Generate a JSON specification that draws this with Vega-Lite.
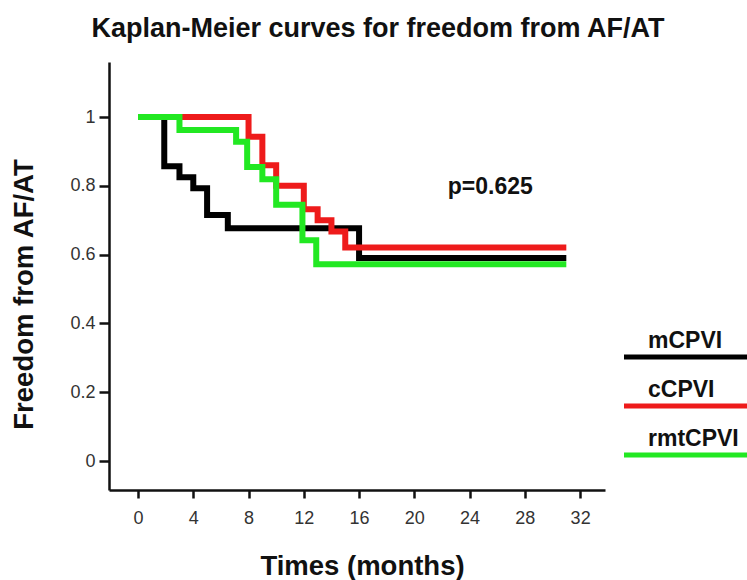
{
  "$schema": "https://vega.github.io/schema/vega-lite/v6.json",
  "width": 496,
  "height": 428,
  "autosize": {"type": "none"},
  "padding": {"left": 109, "top": 62, "right": 142, "bottom": 90},
  "background": "white",
  "title": {"text": "Kaplan-Meier curves for freedom from AF/AT", "font": "Liberation Sans", "fontSize": 27, "fontWeight": "bold", "color": "#111111", "anchor": "middle", "offset": 19, "dx": 21},
  "config": {"view": {"stroke": null}},
  "layer": [
    {
      "data": {"values": [
        {"group": "mCPVI", "t": 0, "s": 1},
        {"group": "mCPVI", "t": 1.9, "s": 0.857},
        {"group": "mCPVI", "t": 3, "s": 0.825},
        {"group": "mCPVI", "t": 4, "s": 0.793},
        {"group": "mCPVI", "t": 5, "s": 0.715},
        {"group": "mCPVI", "t": 6.5, "s": 0.677},
        {"group": "mCPVI", "t": 16, "s": 0.59},
        {"group": "mCPVI", "t": 31, "s": 0.59},
        {"group": "cCPVI", "t": 0, "s": 1},
        {"group": "cCPVI", "t": 8, "s": 0.943},
        {"group": "cCPVI", "t": 9, "s": 0.86},
        {"group": "cCPVI", "t": 10, "s": 0.8},
        {"group": "cCPVI", "t": 12, "s": 0.732},
        {"group": "cCPVI", "t": 13, "s": 0.7},
        {"group": "cCPVI", "t": 14, "s": 0.667},
        {"group": "cCPVI", "t": 15, "s": 0.621},
        {"group": "cCPVI", "t": 31, "s": 0.621},
        {"group": "rmtCPVI", "t": 0, "s": 1},
        {"group": "rmtCPVI", "t": 3, "s": 0.962},
        {"group": "rmtCPVI", "t": 7.1, "s": 0.928},
        {"group": "rmtCPVI", "t": 7.9, "s": 0.855},
        {"group": "rmtCPVI", "t": 9, "s": 0.819},
        {"group": "rmtCPVI", "t": 10, "s": 0.745},
        {"group": "rmtCPVI", "t": 11.9, "s": 0.642},
        {"group": "rmtCPVI", "t": 12.9, "s": 0.572},
        {"group": "rmtCPVI", "t": 31, "s": 0.572}
      ]},
      "mark": {"type": "line", "interpolate": "step-after", "strokeWidth": 6},
      "encoding": {
        "x": {"field": "t", "type": "quantitative",
          "scale": {"domain": [-2.1, 33.8], "nice": false, "zero": false},
          "axis": {"values": [0, 4, 8, 12, 16, 20, 24, 28, 32], "title": "Times (months)",
            "titleFont": "Liberation Sans", "titleFontSize": 27.5, "titleFontWeight": "bold", "titleColor": "#111111", "titlePadding": 25, "titleX": 253,
            "labelFont": "Liberation Sans", "labelFontSize": 18, "labelColor": "#333333", "labelPadding": 11,
            "tickSize": 8, "tickWidth": 2.5, "tickColor": "#111111", "domainColor": "#111111", "domainWidth": 2.5,
            "grid": false, "labelFlush": false, "labelOverlap": false}},
        "y": {"field": "s", "type": "quantitative",
          "scale": {"domain": [-0.084, 1.16], "nice": false, "zero": false},
          "axis": {"values": [0, 0.2, 0.4, 0.6, 0.8, 1], "format": "~g", "title": "Freedom from AF/AT",
            "titleFont": "Liberation Sans", "titleFontSize": 27.5, "titleFontWeight": "bold", "titleColor": "#111111", "titlePadding": 31, "titleY": 232,
            "labelFont": "Liberation Sans", "labelFontSize": 18, "labelColor": "#333333", "labelPadding": 4,
            "tickSize": 10, "tickWidth": 2.5, "tickColor": "#111111", "domainColor": "#111111", "domainWidth": 2.5,
            "grid": false, "labelFlush": false, "labelOverlap": false}},
        "color": {"field": "group", "type": "nominal",
          "scale": {"domain": ["mCPVI", "cCPVI", "rmtCPVI"], "range": ["#000000", "#ee1b1b", "#22e822"]},
          "legend": {"title": null, "orient": "none", "legendX": 516, "legendY": 280, "padding": 0,
            "symbolType": "M-6,0H6", "symbolSize": 625, "symbolStrokeWidth": 5, "symbolOffset": 59,
            "rowPadding": 12, "labelOffset": -66, "labelLimit": 300,
            "labelFont": "Liberation Sans", "labelFontWeight": "bold", "labelFontSize": 23, "labelColor": "#111111", "labelBaseline": "alphabetic",
            "encode": {"labels": {"update": {"dy": {"value": -9}}}}}}
      }
    },
    {
      "data": {"values": [{"t": 25.5, "s": 0.797, "label": "p=0.625"}]},
      "mark": {"type": "text", "font": "Liberation Sans", "fontWeight": "bold", "fontSize": 23, "color": "#111111", "align": "center", "baseline": "middle"},
      "encoding": {
        "x": {"field": "t", "type": "quantitative"},
        "y": {"field": "s", "type": "quantitative"},
        "text": {"field": "label"}
      }
    }
  ]
}
